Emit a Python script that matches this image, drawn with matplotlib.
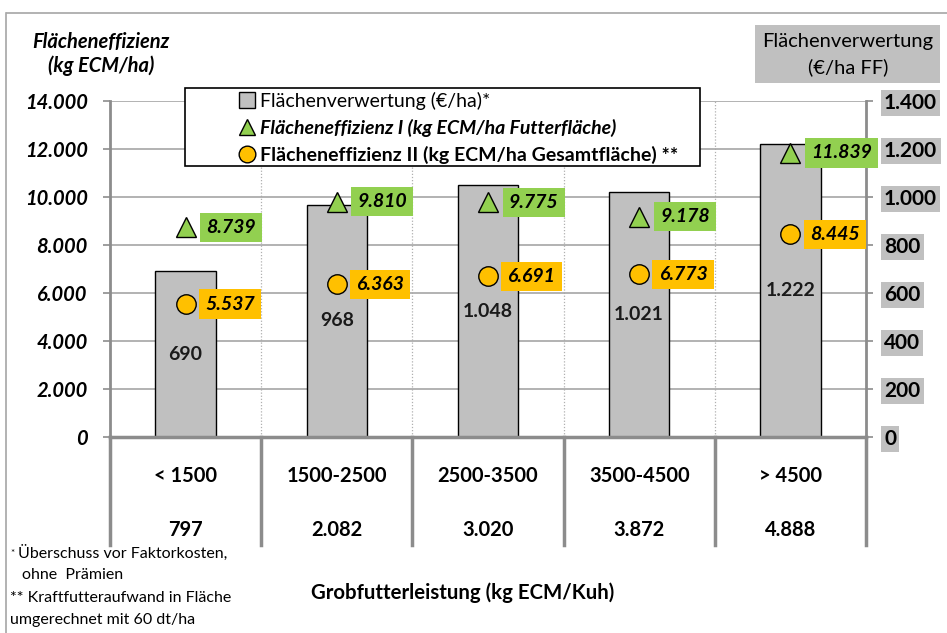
import matplotlib
matplotlib.use('Agg')
import matplotlib.pyplot as plt
from matplotlib.lines import Line2D
from matplotlib.patches import Rectangle
import matplotlib.transforms as mtransforms

# ---------------- data ----------------
categories = ['< 1500', '1500-2500', '2500-3500', '3500-4500', '> 4500']
grobfutter = ['797', '2.082', '3.020', '3.872', '4.888']
verwertung = [690, 968, 1048, 1021, 1222]          # €/ha (right axis)
effizienz1 = [8739, 9810, 9775, 9178, 11839]       # kg ECM/ha Futterfläche
effizienz2 = [5537, 6363, 6691, 6773, 8445]        # kg ECM/ha Gesamtfläche
left_ticks = [0, 2000, 4000, 6000, 8000, 10000, 12000, 14000]
right_ticks = [0, 200, 400, 600, 800, 1000, 1200, 1400]


def de(v):
    return f"{v:,}".replace(',', '.')


plt.rcParams['font.family'] = ['Lato', 'DejaVu Sans']

GRAY_BAR = '#C0C0C0'
GREEN = '#92D050'
ORANGE = '#FFC000'
AXGRAY = '#8C8C8C'
GRIDGRAY = '#A6A6A6'

W, H = 947, 633
fig = plt.figure(figsize=(W / 100, H / 100), dpi=100)


def fx(px):
    return px / W


def fy(py):
    return 1 - py / H


x0, x1, ytop, ybot = 110, 866, 101, 437
axL = fig.add_axes([fx(x0), fy(ybot), (x1 - x0) / W, (ybot - ytop) / H])
axR = axL.twinx()
axL.set_zorder(axR.get_zorder() + 1)
axL.patch.set_visible(False)
axR.patch.set_facecolor('white')

xs = list(range(len(categories)))
for a in (axL, axR):
    a.set_xlim(-0.5, len(categories) - 0.5)
    a.set_xticks([])
axL.set_ylim(0, 14000)
axR.set_ylim(0, 1400)

# grid
axR.set_yticks(right_ticks)
axR.grid(axis='y', color=GRIDGRAY, lw=1.2)
axR.set_axisbelow(True)
for b in [i + 0.5 for i in xs[:-1]]:
    axR.axvline(b, color='#B0B0B0', ls=(0, (1, 1.5)), lw=0.9, zorder=0.5)

# bars
axR.bar(xs, verwertung, width=0.4, color=GRAY_BAR, edgecolor='black', lw=1.0, zorder=2)
for i, v in zip(xs, verwertung):
    axR.text(i, v / 2, de(v), ha='center', va='center', fontsize=14,
             fontweight='bold', color='#1a1a1a', zorder=3)

# markers
axL.plot(xs, effizienz1, ls='none', marker='^', ms=15, mfc=GREEN, mec='black', mew=1, zorder=4)
axL.plot(xs, effizienz2, ls='none', marker='o', ms=14, mfc=ORANGE, mec='black', mew=1, zorder=4)
for i, v in zip(xs, effizienz1):
    axL.annotate(de(v), (i, v), xytext=(15, 0), textcoords='offset points',
                 ha='left', va='center', fontsize=14, fontweight='bold', style='italic',
                 bbox=dict(boxstyle='square,pad=0.32', fc=GREEN, ec='none'), zorder=5)
for i, v in zip(xs, effizienz2):
    axL.annotate(de(v), (i, v), xytext=(14, 0), textcoords='offset points',
                 ha='left', va='center', fontsize=14, fontweight='bold', style='italic',
                 bbox=dict(boxstyle='square,pad=0.32', fc=ORANGE, ec='none'), zorder=5)

# spines
for a in (axL, axR):
    a.spines['top'].set_visible(False)
axL.spines['right'].set_visible(False)
axR.spines['left'].set_visible(False)
axR.spines['bottom'].set_visible(False)
axL.spines['left'].set_color(AXGRAY)
axL.spines['left'].set_linewidth(2)
axR.spines['right'].set_color(AXGRAY)
axR.spines['right'].set_linewidth(2)
axL.spines['bottom'].set_color(AXGRAY)
axL.spines['bottom'].set_linewidth(2.5)

# left ticks
axL.set_yticks(left_ticks)
axL.set_yticklabels([de(t) for t in left_ticks])
axL.tick_params(axis='y', direction='out', length=5, width=1.2, color=AXGRAY, pad=11,
                labelsize=14.5)
for t in axL.get_yticklabels():
    t.set_fontweight('bold')
    t.set_fontstyle('italic')

# right ticks
axR.set_yticklabels([de(t) for t in right_ticks])
axR.tick_params(axis='y', direction='out', length=5, width=1.2, color=AXGRAY, pad=8,
                labelsize=15)
for t in axR.get_yticklabels():
    t.set_fontweight('bold')
    t.set_bbox(dict(boxstyle='square,pad=0.16', fc=GRAY_BAR, ec='none'))

# category table below axis
trans = mtransforms.blended_transform_factory(axL.transData, axL.transAxes)
ax_h = ybot - ytop
for b in [i - 0.5 for i in xs] + [len(xs) - 0.5]:
    axL.add_line(Line2D([b, b], [0, -(545 - ybot) / ax_h], transform=trans,
                        color=AXGRAY, lw=2.5, clip_on=False))
for i, (c, g) in enumerate(zip(categories, grobfutter)):
    axL.text(i, -(476 - ybot) / ax_h, c, transform=trans, ha='center', va='center',
             fontsize=14.5, fontweight='bold')
    axL.text(i, -(530 - ybot) / ax_h, g, transform=trans, ha='center', va='center',
             fontsize=14.5, fontweight='bold')

# legend
fig.patches.append(Rectangle((fx(185), fy(166)), (700 - 185) / W, (166 - 88) / H,
                             transform=fig.transFigure, fc='white', ec='black', lw=1.2,
                             zorder=4))
handles = [
    Line2D([], [], ls='none', marker='s', ms=11, mfc=GRAY_BAR, mec='black', mew=1),
    Line2D([], [], ls='none', marker='^', ms=12, mfc=GREEN, mec='black', mew=1),
    Line2D([], [], ls='none', marker='o', ms=12, mfc=ORANGE, mec='black', mew=1),
]
labels = ['Flächenverwertung (€/ha)*',
          'Flächeneffizienz I (kg ECM/ha Futterfläche)',
          'Flächeneffizienz II (kg ECM/ha Gesamtfläche) **']
leg = fig.legend(handles, labels, loc='upper left', bbox_to_anchor=(fx(240), fy(92)),
                 frameon=False, fontsize=14, handlelength=0.7, handletextpad=0.35,
                 labelspacing=0.45, borderpad=0, borderaxespad=0)
leg.set_zorder(6)
txts = leg.get_texts()
txts[1].set_fontweight('bold')
txts[1].set_fontstyle('italic')
txts[2].set_fontweight('bold')

# axis titles
fig.text(fx(101), fy(42), 'Flächeneffizienz', ha='center', va='center', fontsize=14.5,
         fontweight='bold', style='italic')
fig.text(fx(101), fy(66), '(kg ECM/ha)', ha='center', va='center', fontsize=14.5,
         fontweight='bold', style='italic')
fig.patches.append(Rectangle((fx(755), fy(83)), 185 / W, 58 / H, transform=fig.transFigure,
                             fc=GRAY_BAR, ec='none', zorder=1))
fig.text(fx(848), fy(41), 'Flächenverwertung', ha='center', va='center', fontsize=14.5,
         zorder=2)
fig.text(fx(848), fy(67), '(€/ha FF)', ha='center', va='center', fontsize=14.5, zorder=2)

fig.text(fx(463), fy(593), 'Grobfutterleistung (kg ECM/Kuh)', ha='center', va='center',
         fontsize=14.7, fontweight='bold')

# footnotes
fig.text(fx(10), fy(553), '*', ha='left', va='center', fontsize=7)
fig.text(fx(18), fy(553), 'Überschuss vor Faktorkosten,', ha='left', va='center', fontsize=11.5)
fig.text(fx(22), fy(575), 'ohne  Prämien', ha='left', va='center', fontsize=11.5)
fig.text(fx(10), fy(598), '** Kraftfutteraufwand in Fläche', ha='left', va='center', fontsize=11.5)
fig.text(fx(10), fy(620), 'umgerechnet mit 60 dt/ha', ha='left', va='center', fontsize=11.5)

# outer border
fig.add_artist(Line2D([fx(7), 1], [fy(13), fy(13)], transform=fig.transFigure,
                      color='#A6A6A6', lw=1.2))
fig.add_artist(Line2D([fx(6), fx(6)], [fy(13), 0], transform=fig.transFigure,
                      color='#A6A6A6', lw=1.2))

fig.savefig('out.png', dpi=100)
